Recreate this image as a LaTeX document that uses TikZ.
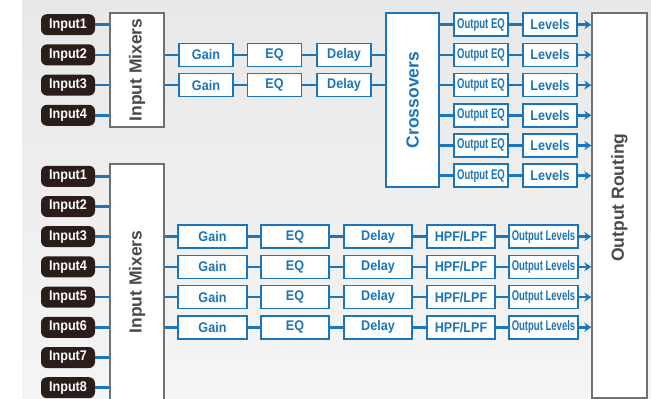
\documentclass[tikz,border=0pt]{standalone}
\usepackage{fontspec}
\setmainfont{Liberation Sans}
\newfontfamily\boxfont[FakeStretch=0.9]{Liberation Sans}
\newfontfamily\thinfont[FakeStretch=0.68]{Liberation Sans}
\usetikzlibrary{arrows.meta}
\definecolor{sigblue}{HTML}{1B75BC}
\definecolor{pilldark}{HTML}{2A1D1A}
\definecolor{mixgrey}{HTML}{4A4A4A}
\definecolor{edgegrey}{HTML}{707070}
\tikzset{
	inputstyle/.style={rectangle,rounded corners=6pt,fill=pilldark,text=white,minimum width=54pt,minimum height=21pt,inner sep=0pt,font=\boxfont\bfseries\fontsize{14}{16}\selectfont},
	mixerstyle/.style={rectangle,draw=edgegrey,line width=1.4pt,fill=white,text=mixgrey,minimum width=54pt,inner sep=0pt,font=\bfseries\fontsize{17.5}{20}\selectfont},
	procstyle/.style={rectangle,draw=sigblue,line width=1.6pt,fill=white,text=sigblue,minimum width=54pt,minimum height=23pt,inner sep=0pt,font=\boxfont\bfseries\fontsize{14}{16}\selectfont},
	widestyle/.style={procstyle,minimum width=68pt},
	outstyle/.style={procstyle,font=\thinfont\bfseries\fontsize{14}{16}\selectfont},
	crossstyle/.style={procstyle,minimum width=53pt,minimum height=174pt,font=\bfseries\fontsize{17.5}{20}\selectfont},
	link/.style={draw=sigblue,line width=2.6pt},
	feed/.style={link,-{Stealth[length=7pt,width=9pt]}}
}
\begin{document}
\begin{tikzpicture}[x=1pt,y=-1pt]
		\useasboundingbox (0,0) rectangle (651,399);
		\shade[top color=black!9,bottom color=black!4] (22,0) rectangle (651,399);
		% upper chain
		\node[inputstyle] (inA1) at (68,24.7) {Input1};
		\node[inputstyle] (inA2) at (68,54.9) {Input2};
		\node[inputstyle] (inA3) at (68,85.1) {Input3};
		\node[inputstyle] (inA4) at (68,115.3) {Input4};
		\node[mixerstyle,minimum height=114pt] (mixA) at (137,70) {\rotatebox{90}{Input Mixers}};
		\node[procstyle] (gainA1) at (206,54.9) {Gain};
		\node[procstyle] (eqA1) at (274.5,54.9) {EQ};
		\node[procstyle] (delayA1) at (344,54.9) {Delay};
		\node[procstyle] (gainA2) at (206,85.1) {Gain};
		\node[procstyle] (eqA2) at (274.5,85.1) {EQ};
		\node[procstyle] (delayA2) at (344,85.1) {Delay};
		\node[crossstyle] (cross) at (412.5,100) {\rotatebox{90}{Crossovers}};
		\node[outstyle] (oeq1) at (481,24.7) {Output EQ};
		\node[outstyle] (oeq2) at (481,54.9) {Output EQ};
		\node[outstyle] (oeq3) at (481,85.1) {Output EQ};
		\node[outstyle] (oeq4) at (481,115.3) {Output EQ};
		\node[outstyle] (oeq5) at (481,145.5) {Output EQ};
		\node[outstyle] (oeq6) at (481,175.7) {Output EQ};
		\node[procstyle] (lev1) at (550,24.7) {Levels};
		\node[procstyle] (lev2) at (550,54.9) {Levels};
		\node[procstyle] (lev3) at (550,85.1) {Levels};
		\node[procstyle] (lev4) at (550,115.3) {Levels};
		\node[procstyle] (lev5) at (550,145.5) {Levels};
		\node[procstyle] (lev6) at (550,175.7) {Levels};
		\node[mixerstyle,minimum width=55pt,minimum height=385pt] (route) at (619.5,205.5) {\rotatebox{90}{\hspace{16pt}Output Routing}};
		% lower chain
		\node[inputstyle] (inB1) at (68,176.3) {Input1};
		\node[inputstyle] (inB2) at (68,206.5) {Input2};
		\node[inputstyle] (inB3) at (68,236.6) {Input3};
		\node[inputstyle] (inB4) at (68,266.8) {Input4};
		\node[inputstyle] (inB5) at (68,297.1) {Input5};
		\node[inputstyle] (inB6) at (68,327.3) {Input6};
		\node[inputstyle] (inB7) at (68,357.5) {Input7};
		\node[inputstyle] (inB8) at (68,387.7) {Input8};
		\node[mixerstyle,minimum height=236pt] (mixB) at (137,282) {\rotatebox{90}{Input Mixers}};
		\node[widestyle,minimum width=69pt] (gainB1) at (212.5,236.6) {Gain};
		\node[widestyle] (eqB1) at (295,236.6) {EQ};
		\node[widestyle] (delayB1) at (378,236.6) {Delay};
		\node[widestyle] (filtB1) at (461,236.6) {HPF/LPF};
		\node[outstyle,minimum width=69pt] (olevB1) at (543.5,236.6) {Output Levels};
		\node[widestyle,minimum width=69pt] (gainB2) at (212.5,266.8) {Gain};
		\node[widestyle] (eqB2) at (295,266.8) {EQ};
		\node[widestyle] (delayB2) at (378,266.8) {Delay};
		\node[widestyle] (filtB2) at (461,266.8) {HPF/LPF};
		\node[outstyle,minimum width=69pt] (olevB2) at (543.5,266.8) {Output Levels};
		\node[widestyle,minimum width=69pt] (gainB3) at (212.5,297.1) {Gain};
		\node[widestyle] (eqB3) at (295,297.1) {EQ};
		\node[widestyle] (delayB3) at (378,297.1) {Delay};
		\node[widestyle] (filtB3) at (461,297.1) {HPF/LPF};
		\node[outstyle,minimum width=69pt] (olevB3) at (543.5,297.1) {Output Levels};
		\node[widestyle,minimum width=69pt] (gainB4) at (212.5,327.3) {Gain};
		\node[widestyle] (eqB4) at (295,327.3) {EQ};
		\node[widestyle] (delayB4) at (378,327.3) {Delay};
		\node[widestyle] (filtB4) at (461,327.3) {HPF/LPF};
		\node[outstyle,minimum width=69pt] (olevB4) at (543.5,327.3) {Output Levels};
		% upper links
		\draw[link] (inA1.east) -- (inA1 -| mixA.west);
		\draw[link] (inA2.east) -- (inA2 -| mixA.west);
		\draw[link] (inA3.east) -- (inA3 -| mixA.west);
		\draw[link] (inA4.east) -- (inA4 -| mixA.west);
		\draw[link] (mixA.east |- gainA1) -- (gainA1);
		\draw[link] (gainA1) -- (eqA1);
		\draw[link] (eqA1) -- (delayA1);
		\draw[link] (delayA1) -- (delayA1 -| cross.west);
		\draw[link] (mixA.east |- gainA2) -- (gainA2);
		\draw[link] (gainA2) -- (eqA2);
		\draw[link] (eqA2) -- (delayA2);
		\draw[link] (delayA2) -- (delayA2 -| cross.west);
		\draw[link] (cross.east |- oeq1) -- (oeq1);
		\draw[link] (cross.east |- oeq2) -- (oeq2);
		\draw[link] (cross.east |- oeq3) -- (oeq3);
		\draw[link] (cross.east |- oeq4) -- (oeq4);
		\draw[link] (cross.east |- oeq5) -- (oeq5);
		\draw[link] (cross.east |- oeq6) -- (oeq6);
		\draw[link] (oeq1) -- (lev1);
		\draw[link] (oeq2) -- (lev2);
		\draw[link] (oeq3) -- (lev3);
		\draw[link] (oeq4) -- (lev4);
		\draw[link] (oeq5) -- (lev5);
		\draw[link] (oeq6) -- (lev6);
		\draw[feed] (lev1) -- (lev1 -| route.west);
		\draw[feed] (lev2) -- (lev2 -| route.west);
		\draw[feed] (lev3) -- (lev3 -| route.west);
		\draw[feed] (lev4) -- (lev4 -| route.west);
		\draw[feed] (lev5) -- (lev5 -| route.west);
		\draw[feed] (lev6) -- (lev6 -| route.west);
		% lower links
		\draw[link] (inB1.east) -- (inB1 -| mixB.west);
		\draw[link] (inB2.east) -- (inB2 -| mixB.west);
		\draw[link] (inB3.east) -- (inB3 -| mixB.west);
		\draw[link] (inB4.east) -- (inB4 -| mixB.west);
		\draw[link] (inB5.east) -- (inB5 -| mixB.west);
		\draw[link] (inB6.east) -- (inB6 -| mixB.west);
		\draw[link] (inB7.east) -- (inB7 -| mixB.west);
		\draw[link] (inB8.east) -- (inB8 -| mixB.west);
		\draw[link] (mixB.east |- gainB1) -- (gainB1);
		\draw[link] (gainB1) -- (eqB1);
		\draw[link] (eqB1) -- (delayB1);
		\draw[link] (delayB1) -- (filtB1);
		\draw[link] (filtB1) -- (olevB1);
		\draw[feed] (olevB1) -- (olevB1 -| route.west);
		\draw[link] (mixB.east |- gainB2) -- (gainB2);
		\draw[link] (gainB2) -- (eqB2);
		\draw[link] (eqB2) -- (delayB2);
		\draw[link] (delayB2) -- (filtB2);
		\draw[link] (filtB2) -- (olevB2);
		\draw[feed] (olevB2) -- (olevB2 -| route.west);
		\draw[link] (mixB.east |- gainB3) -- (gainB3);
		\draw[link] (gainB3) -- (eqB3);
		\draw[link] (eqB3) -- (delayB3);
		\draw[link] (delayB3) -- (filtB3);
		\draw[link] (filtB3) -- (olevB3);
		\draw[feed] (olevB3) -- (olevB3 -| route.west);
		\draw[link] (mixB.east |- gainB4) -- (gainB4);
		\draw[link] (gainB4) -- (eqB4);
		\draw[link] (eqB4) -- (delayB4);
		\draw[link] (delayB4) -- (filtB4);
		\draw[link] (filtB4) -- (olevB4);
		\draw[feed] (olevB4) -- (olevB4 -| route.west);
\end{tikzpicture}
\end{document}
